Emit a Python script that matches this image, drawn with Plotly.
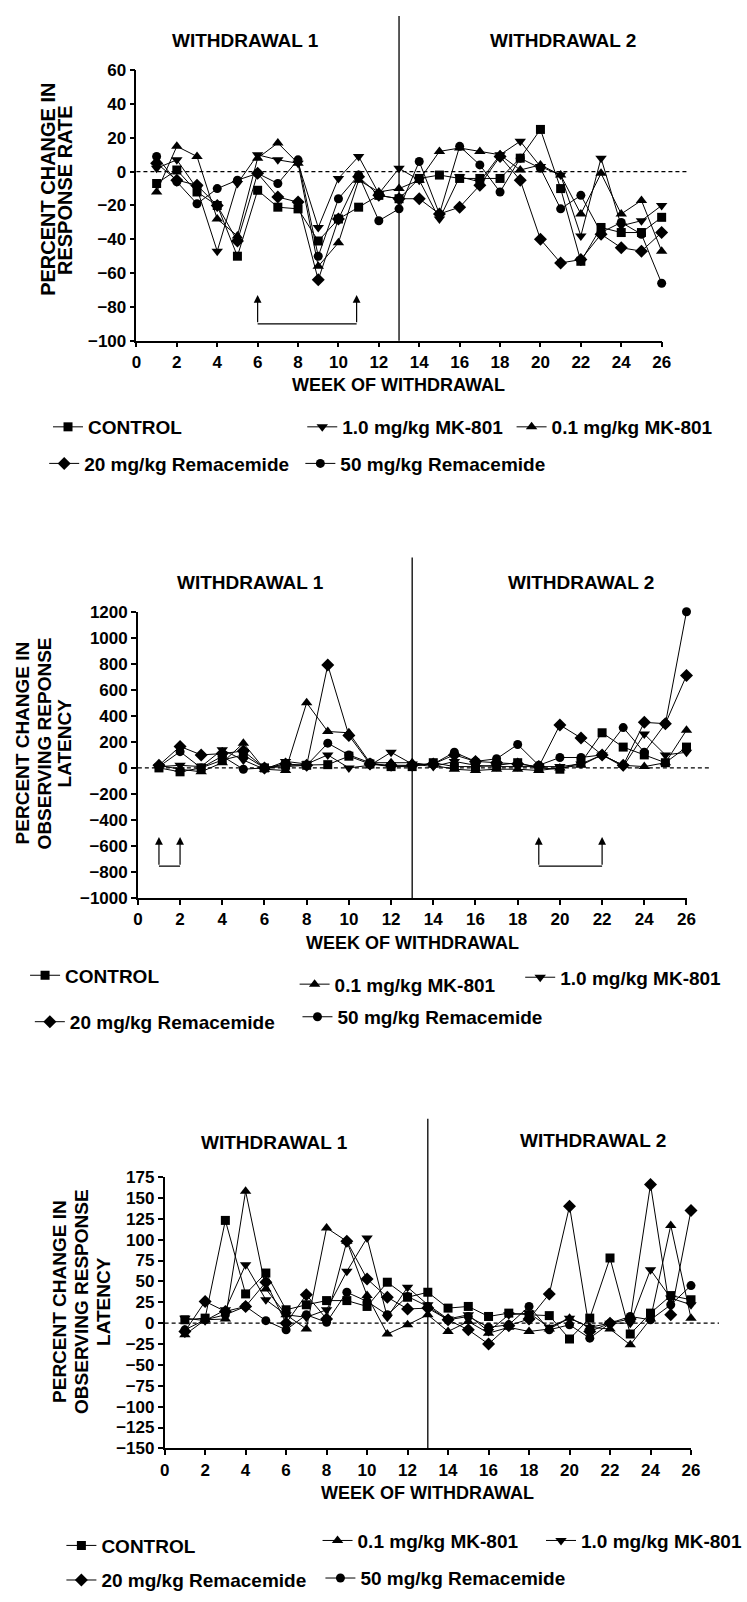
import plotly.graph_objects as go

# ---------------- DATA ----------------
weeks = list(range(1, 27))

series_names = ["CONTROL", "1.0 mg/kg MK-801", "0.1 mg/kg MK-801",
                "20 mg/kg Remacemide", "50 mg/kg Remacemide"]

# Panel 1: percent change in response rate
rate_control = [-7, 1, -12, -20, -50, -11, -21, -22, -41, -28, -21, -14, -16,
                -4, -2, -4, -4, -4, 8, 25, -10, -53, -33, -36, -36, -27]
rate_mk10 = [2, 7, -10, -47, -7, 10, 7, 5, -33, -4, 9, -13, 2,
             -5, -28, -3, -6, 10, 18, 3, -2, -38, 8, -32, -29, -20]
rate_mk01 = [-12, 15, 9, -28, -38, 8, 17, 5, -56, -42, -5, -12, -10,
             -5, 12, 14, 12, 10, 1, 4, -2, -25, -1, -25, -17, -47]
rate_rem20 = [5, -5, -8, -20, -41, -1, -15, -18, -64, -28, -3, -14, -16,
              -16, -25, -21, -8, 9, -5, -40, -54, -52, -37, -45, -47, -36]
rate_rem50 = [9, -6, -19, -10, -5, -1, -7, 7, -50, -16, -2, -29, -22,
              6, -25, 15, 4, -12, 8, 2, -22, -14, -36, -30, -37, -66]

# Panel 2: percent change in observing reponse latency
lat1_control = [0, -30, 0, 60, 100, 0, 20, 20, 25, 90, 30, 10, 10,
                40, 10, 10, 20, 40, 0, -10, 40, 270, 160, 100, 40, 160]
lat1_mk10 = [10, 20, 10, 140, 60, -10, 50, 30, 100, 0, 20, 120, 30,
             10, 50, 20, 10, 10, 10, 10, 30, 100, 10, 260, 100, 120]
lat1_mk01 = [20, -10, -30, 40, 190, -10, -20, 500, 280, 270, 40, 40, 40,
             20, -10, -20, -10, -10, -20, 0, 20, 100, 20, 10, 40, 290]
lat1_rem20 = [20, 165, 100, 110, 130, 0, 30, 20, 790, 250, 30, 20, 20,
              30, 100, 50, 40, 30, 10, 330, 230, 100, 20, 350, 340, 710]
lat1_rem50 = [10, 125, 0, 90, -10, 0, 10, 20, 190, 100, 40, 10, 20,
              30, 120, 50, 70, 180, 20, 80, 80, 100, 310, 120, 340, 1200]

# Panel 3: percent change in observing response latency
lat2_control = [4, 6, 123, 35, 60, 16, 22, 27, 27, 20, 49, 31, 37,
                18, 20, 8, 12, 10, 9, -19, 6, 78, -13, 12, 33, 28]
lat2_mk10 = [6, 3, 16, 70, 28, 10, 7, 16, 62, 102, 7, 43, 22,
             5, 10, -10, 10, 12, -5, 6, -5, 0, 0, 64, 30, 22]
lat2_mk01 = [-14, 4, 5, 158, 41, 10, -7, 114, 98, 33, -13, -2, 10,
             -10, 2, -12, -5, -10, -7, 6, -5, -7, -26, 5, 117, 6]
lat2_rem20 = [-10, 26, 14, 20, 49, 0, 34, 5, 98, 53, 31, 17, 18,
              4, -8, -25, -3, 5, 35, 140, -10, 0, 5, 166, 10, 135]
lat2_rem50 = [-8, 4, 10, 20, 3, -8, 10, 1, 37, 26, 10, 32, 20,
              4, 8, -5, -2, 20, -8, -2, -18, 0, 8, 4, 22, 45]

x_ticks = list(range(0, 27, 2))
y1_ticks = list(range(-100, 61, 20))
y2_ticks = list(range(-1000, 1201, 200))
y3_ticks = list(range(-150, 176, 25))

# ---------------- STYLE / LAYOUT ----------------
W, H = 747, 1602
FONT = "Liberation Sans, Arial, Helvetica, sans-serif"


def px(v):
    return v / W


def py(v):
    return 1 - v / H


symbols = {"CONTROL": ("square", 9),
           "1.0 mg/kg MK-801": ("triangle-down", 10),
           "0.1 mg/kg MK-801": ("triangle-up", 10),
           "20 mg/kg Remacemide": ("diamond", 10),
           "50 mg/kg Remacemide": ("circle", 9)}

# legend entries: (text start x, row centre y) in pixels
panels = [
    dict(data=[rate_control, rate_mk10, rate_mk01, rate_rem20, rate_rem50],
         xd=(137.5, 687), yd=(62, 335.7), yr=(-100, 60), yt=y1_ticks,
         vtop=7, dash_end=713, titles=((252, 32), (584, 32)),
         ytitle=[("PERCENT CHANGE IN", 45), ("RESPONSE RATE", 63)], ytc=183, ytsize=20,
         xtitle=(412, 381), tick_size=17,
         legend={"CONTROL": (86, 423), "1.0 mg/kg MK-801": (352, 423),
                 "0.1 mg/kg MK-801": (571, 423), "20 mg/kg Remacemide": (82, 460),
                 "50 mg/kg Remacemide": (350, 460)},
         arrows=[(6, 10.9)], arrow_y=(-90, -73)),
    dict(data=[lat1_control, lat1_mk10, lat1_mk01, lat1_rem20, lat1_rem50],
         xd=(139, 713), yd=(610, 899.7), yr=(-1000, 1200), yt=y2_ticks,
         vtop=555, dash_end=739, titles=((257, 580), (603, 580)),
         ytitle=[("PERCENT CHANGE IN", 18), ("OBSERVING REPONSE", 41), ("LATENCY", 62)],
         ytc=743, ytsize=19,
         xtitle=(426, 945), tick_size=17,
         legend={"CONTROL": (62, 978), "0.1 mg/kg MK-801": (344, 987),
                 "1.0 mg/kg MK-801": (580, 980), "20 mg/kg Remacemide": (67, 1025),
                 "50 mg/kg Remacemide": (347, 1020)},
         arrows=[(1, 2), (19, 22)], arrow_y=(-755, -530)),
    dict(data=[lat2_control, lat2_mk10, lat2_mk01, lat2_rem20, lat2_rem50],
         xd=(167, 717.7), yd=(1182, 1456.7), yr=(-150, 175), yt=y3_ticks,
         vtop=1123, dash_end=747, titles=((282, 1147), (615, 1145)),
         ytitle=[("PERCENT CHANGE IN", 57), ("OBSERVING RESPONSE", 80), ("LATENCY", 103)],
         ytc=1308, ytsize=19,
         xtitle=(442, 1502), tick_size=17,
         legend={"CONTROL": (100, 1555), "0.1 mg/kg MK-801": (368, 1550),
                 "1.0 mg/kg MK-801": (602, 1550), "20 mg/kg Remacemide": (100, 1590),
                 "50 mg/kg Remacemide": (371, 1588)},
         arrows=[], arrow_y=None),
]

fig = go.Figure()
layout = dict(width=W, height=H, margin=dict(l=0, r=0, t=0, b=0),
              paper_bgcolor="white", plot_bgcolor="white", showlegend=True,
              font=dict(family=FONT, color="black"))
shapes, annotations = [], []
legend_idx = 0

for i, p in enumerate(panels):
    n = "" if i == 0 else str(i + 1)
    xa, ya = "x" + n, "y" + n
    layout["xaxis" + n] = dict(
        domain=[px(p["xd"][0]), px(p["xd"][1])], range=[0, 26], anchor=ya,
        tickvals=x_ticks, ticks="outside", ticklen=5, tickwidth=1.5, tickcolor="black",
        showline=True, linecolor="black", linewidth=1.5, showgrid=False, zeroline=False,
        tickfont=dict(family=FONT, size=17, color="black", weight="bold"))
    layout["yaxis" + n] = dict(
        domain=[py(p["yd"][1]), py(p["yd"][0])], range=list(p["yr"]), anchor=xa,
        tickvals=p["yt"], ticks="outside", ticklen=5, tickwidth=1.5, tickcolor="black",
        showline=True, linecolor="black", linewidth=1.5, showgrid=False, zeroline=False,
        tickfont=dict(family=FONT, size=p["tick_size"], color="black", weight="bold"))

    for name, vals in zip(series_names, p["data"]):
        legend_idx += 1
        lname = "legend" if legend_idx == 1 else "legend%d" % legend_idx
        sym, sz = symbols[name]
        fig.add_trace(go.Scatter(
            x=weeks, y=vals, name=name, mode="lines+markers", xaxis=xa, yaxis=ya,
            line=dict(color="black", width=1),
            marker=dict(symbol=sym, size=sz, color="black"),
            cliponaxis=False, legend=lname, showlegend=True))
        tx, ty = p["legend"][name]
        layout[lname] = dict(x=px(tx - 41), y=py(ty), xanchor="left", yanchor="middle",
                             bgcolor="rgba(0,0,0,0)", borderwidth=0, itemwidth=30,
                             font=dict(family=FONT, size=19, color="black", weight="bold"))

    # zero reference line
    shapes.append(dict(type="line", xref="paper", yref=ya, x0=px(p["xd"][0]),
                       x1=px(p["dash_end"]), y0=0, y1=0,
                       line=dict(color="black", width=1.2, dash="4px,3px")))
    # withdrawal divider
    shapes.append(dict(type="line", xref=xa, yref="paper", x0=13, x1=13,
                       y0=py(p["yd"][1]), y1=py(p["vtop"]),
                       line=dict(color="black", width=1.3)))
    # titles
    for t, (tx, ty) in zip(["WITHDRAWAL 1", "WITHDRAWAL 2"], p["titles"]):
        annotations.append(dict(text=t, x=px(tx), y=py(ty), xref="paper", yref="paper",
                                showarrow=False, xanchor="center", yanchor="middle",
                                font=dict(family=FONT, size=19, color="black", weight="bold")))
    # y title lines
    for t, tx in p["ytitle"]:
        annotations.append(dict(text=t, x=px(tx), y=py(p["ytc"]), xref="paper", yref="paper",
                                showarrow=False, textangle=-90, xanchor="center",
                                yanchor="middle",
                                font=dict(family=FONT, size=p["ytsize"], color="black",
                                          weight="bold")))
    # x title
    annotations.append(dict(text="WEEK OF WITHDRAWAL", x=px(p["xtitle"][0]),
                            y=py(p["xtitle"][1]), xref="paper", yref="paper",
                            showarrow=False, xanchor="center", yanchor="middle",
                            font=dict(family=FONT, size=18, color="black", weight="bold")))
    # treatment arrows
    for (a, b) in p["arrows"]:
        base, tip = p["arrow_y"]
        for wx in (a, b):
            annotations.append(dict(x=wx, y=tip, ax=wx, ay=base, xref=xa, yref=ya,
                                    axref=xa, ayref=ya, text="", showarrow=True,
                                    arrowhead=2, arrowsize=1.3, arrowwidth=1.2,
                                    arrowcolor="black"))
        shapes.append(dict(type="line", xref=xa, yref=ya, x0=a, x1=b, y0=base, y1=base,
                           line=dict(color="black", width=1.2)))

layout["shapes"] = shapes
layout["annotations"] = annotations
fig.update_layout(**layout)
fig.write_html("out.html")
